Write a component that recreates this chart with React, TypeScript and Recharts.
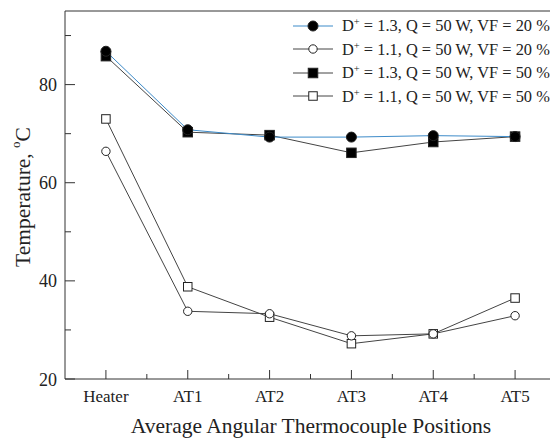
import React from "react";
import {Line, LineChart, ReferenceLine, XAxis, YAxis} from "recharts";

const positions = ["Heater", "AT1", "AT2", "AT3", "AT4", "AT5"];
const d13vf20 = [86.8, 70.8, 69.3, 69.3, 69.6, 69.4];
const d11vf20 = [66.4, 33.8, 33.3, 28.8, 29.2, 32.9];
const d13vf50 = [85.8, 70.3, 69.7, 66.1, 68.3, 69.4];
const d11vf50 = [73.0, 38.8, 32.6, 27.2, 29.2, 36.5];
const yTicks = [20, 30, 40, 50, 60, 70, 80, 90];
const yLabels = [20, 40, 60, 80];
const xTicks = [0, 0.5, 1, 1.5, 2, 2.5, 3, 3.5, 4, 4.5, 5];

const seriesInfo = [
  {key: "a", d: "1.3", vf: "20", shape: "circle", fill: "#000", line: "#3d8bc9"},
  {key: "b", d: "1.1", vf: "20", shape: "circle", fill: "#fff", line: "#444"},
  {key: "c", d: "1.3", vf: "50", shape: "square", fill: "#000", line: "#444"},
  {key: "d", d: "1.1", vf: "50", shape: "square", fill: "#fff", line: "#444"},
];

const data = positions.map((p, i) => ({
  idx: i,
  name: p,
  a: d13vf20[i],
  b: d11vf20[i],
  c: d13vf50[i],
  d: d11vf50[i],
}));

const FONT = "'Liberation Serif', 'Times New Roman', serif";

function Marker({cx, cy, shape, fill}: any) {
  if (cx == null || cy == null) return null;
  const open = fill === "#fff";
  if (shape === "circle") {
    const r = open ? 4.2 : 5;
    return <circle cx={cx} cy={cy} r={r} fill={fill} stroke="#222" strokeWidth={1} />;
  }
  const s = open ? 8.5 : 9.5;
  return <rect x={cx - s / 2} y={cy - s / 2} width={s} height={s} fill={fill} stroke="#222" strokeWidth={1} />;
}

function XTick({x, y, payload}: any) {
  const v = payload.value;
  const major = Number.isInteger(v);
  return (
    <g>
      <line x1={x} y1={y} x2={x} y2={y - (major ? 9 : 5)} stroke="#333" />
      {major && (
        <text x={x} y={y + 23} textAnchor="middle" fontFamily={FONT} fontSize={17} fill="#222">
          {positions[v]}
        </text>
      )}
    </g>
  );
}

function YTick({x, y, payload}: any) {
  const v = payload.value;
  const major = yLabels.includes(v);
  return (
    <g>
      <line x1={x} y1={y} x2={x + (major ? 10 : 6)} y2={y} stroke="#333" />
      {major && (
        <text x={x - 8} y={y + 6.5} textAnchor="end" fontFamily={FONT} fontSize={18} fill="#222">
          {v}
        </text>
      )}
    </g>
  );
}

function LegendBox() {
  return (
    <div
      style={{
        position: "absolute",
        left: 292,
        top: 14,
        fontFamily: FONT,
        fontSize: 16.4,
        color: "#222",
        lineHeight: "23.5px",
      }}
    >
      {seriesInfo.map((s) => (
        <div key={s.key} style={{display: "flex", alignItems: "center", whiteSpace: "nowrap"}}>
          <svg width={50} height={14}>
            <line x1={1} y1={7} x2={41} y2={7} stroke={s.line} strokeWidth={1} />
            <Marker cx={21} cy={7} shape={s.shape} fill={s.fill} />
          </svg>
          <span>
            D<sup style={{fontSize: 10.5, verticalAlign: 6, lineHeight: 0}}>+</sup> = {s.d}, Q = 50 W, VF = {s.vf} %
          </span>
        </div>
      ))}
    </div>
  );
}

export default function App() {
  return (
    <div style={{position: "fixed", left: 0, top: 0, width: 550, height: 442, overflow: "hidden", background: "#fff"}}>
      <LineChart width={565} height={442} data={data} margin={{top: 11, right: 9, bottom: 0, left: 0}}>
        <XAxis
          dataKey="idx"
          type="number"
          domain={[-0.5, 5.5]}
          ticks={xTicks}
          interval={0}
          height={63}
          tickSize={0}
          tickMargin={0}
          tickLine={false}
          tick={<XTick />}
          axisLine={{stroke: "#333"}}
          label={{
            content: () => (
              <text x={311} y={433} textAnchor="middle" fontFamily={FONT} fontSize={21.5} fill="#222">
                Average Angular Thermocouple Positions
              </text>
            ),
          }}
        />
        <YAxis
          type="number"
          domain={[20, 95]}
          ticks={yTicks}
          interval={0}
          width={65}
          tickSize={0}
          tickMargin={0}
          tickLine={false}
          tick={<YTick />}
          axisLine={{stroke: "#333"}}
          label={{
            content: () => (
              <text
                x={23}
                y={197}
                transform="rotate(-90 23 197)"
                textAnchor="middle"
                dominantBaseline="central"
                fontFamily={FONT}
                fontSize={21.5}
                fill="#222"
              >
                Temperature, <tspan baselineShift="super" fontSize={13}>o</tspan>C
              </text>
            ),
          }}
        />
        <ReferenceLine y={95} stroke="#333" />
        <ReferenceLine x={5.5} stroke="#333" />
        {seriesInfo
          .slice()
          .reverse()
          .map((s) => (
            <Line
              key={s.key}
              dataKey={s.key}
              stroke={s.line}
              strokeWidth={1}
              isAnimationActive={false}
              dot={(p: any) => <Marker key={`${s.key}-${p.index}`} cx={p.cx} cy={p.cy} shape={s.shape} fill={s.fill} />}
              activeDot={false}
            />
          ))}
      </LineChart>
      <LegendBox />
    </div>
  );
}
